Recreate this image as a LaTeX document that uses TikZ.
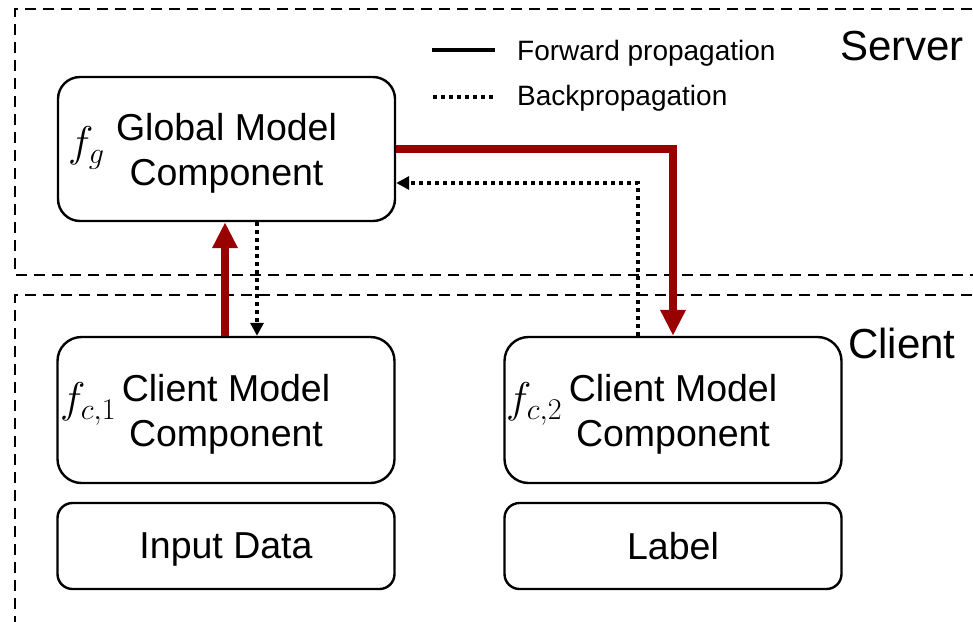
\RequirePackage{fix-cm}
\documentclass[tikz,border=0pt]{standalone}
\usepackage{fontspec}
\setmainfont{Liberation Sans}
\usetikzlibrary{arrows.meta,calc}
\definecolor{fwdred}{HTML}{990000}
\tikzset{
  region/.style={draw=black, line width=2.4pt, dash pattern=on 11pt off 7pt},
  comp/.style={draw=black, line width=2.4pt, rounded corners=24pt, inner sep=0pt,
    minimum width=337pt, minimum height=146pt, align=center, text depth=0pt,
    font=\fontsize{37.5}{45}\selectfont},
  databox/.style={draw=black, line width=2.4pt, rounded corners=15pt, inner sep=0pt,
    minimum width=337pt, minimum height=86pt, align=center, text depth=0pt,
    font=\fontsize{37.5}{45}\selectfont},
  fwd/.style={draw=fwdred, line width=7.5pt, -{Triangle[width=24pt,length=26pt]}},
  bwd/.style={draw=black, line width=3.8pt, dash pattern=on 4pt off 4pt,
    -{Triangle[width=13pt,length=13pt]}},
  fname/.style={anchor=west, inner sep=0pt, font=\fontsize{43}{45}\selectfont},
  legtext/.style={anchor=base west, inner sep=0pt, font=\fontsize{28}{30}\selectfont},
  zone/.style={anchor=base west, inner sep=0pt, font=\fontsize{42}{44}\selectfont}
}
\begin{document}
\begin{tikzpicture}[x=1pt, y=-1pt]
  \useasboundingbox (0,0) rectangle (973,621);

  % server and client regions
  \draw[region] (990,9) -- (15,9) -- (15,275) -- (990,275);
  \draw[region] (990,295) -- (15,295) -- (15,640);
  \node[zone] (server) at (840,60) {Server};
  \node[zone] (client) at (848,358) {Client};

  % legend
  \coordinate (lf1) at (432,50);
  \coordinate (lf2) at (495,50);
  \coordinate (lb1) at (433,97);
  \coordinate (lb2) at (494,97);
  \draw[black, line width=4pt] (lf1) -- (lf2);
  \draw[black, line width=4pt, dash pattern=on 4pt off 4pt] (lb1) -- (lb2);
  \node[legtext] (legf) at (517,60) {Forward propagation};
  \node[legtext] (legb) at (517,105) {Backpropagation};

  % model components
  \node[comp, minimum height=144pt, rounded corners=22pt] (glob) at (226.5,149) {Global Model\\Component};
  \node[comp] (cl1) at (226,410) {Client Model\\Component};
  \node[comp] (cl2) at (673,410) {Client Model\\Component};
  \node[fname] (fg) at (68,148) {$f_g$};
  \node[fname] (fc1) at (60,404) {$f_{c,1}$};
  \node[fname] (fc2) at (506,404) {$f_{c,2}$};

  % data boxes
  \node[databox] (inp) at (226,546) {Input Data};
  \node[databox] (lab) at (673,546) {Label};

  % forward propagation
  \draw[fwd] ([xshift=-1pt]cl1.north) -- ([xshift=-1.5pt]glob.south);
  \draw[fwd] (glob.east) -| (cl2.north);

  % backpropagation
  \draw[bwd] ([xshift=30.5pt]glob.south) -- ([xshift=31pt]cl1.north);
  \draw[bwd] ([xshift=-35pt]cl2.north) |- ([yshift=-34pt]glob.east);
\end{tikzpicture}
\end{document}
